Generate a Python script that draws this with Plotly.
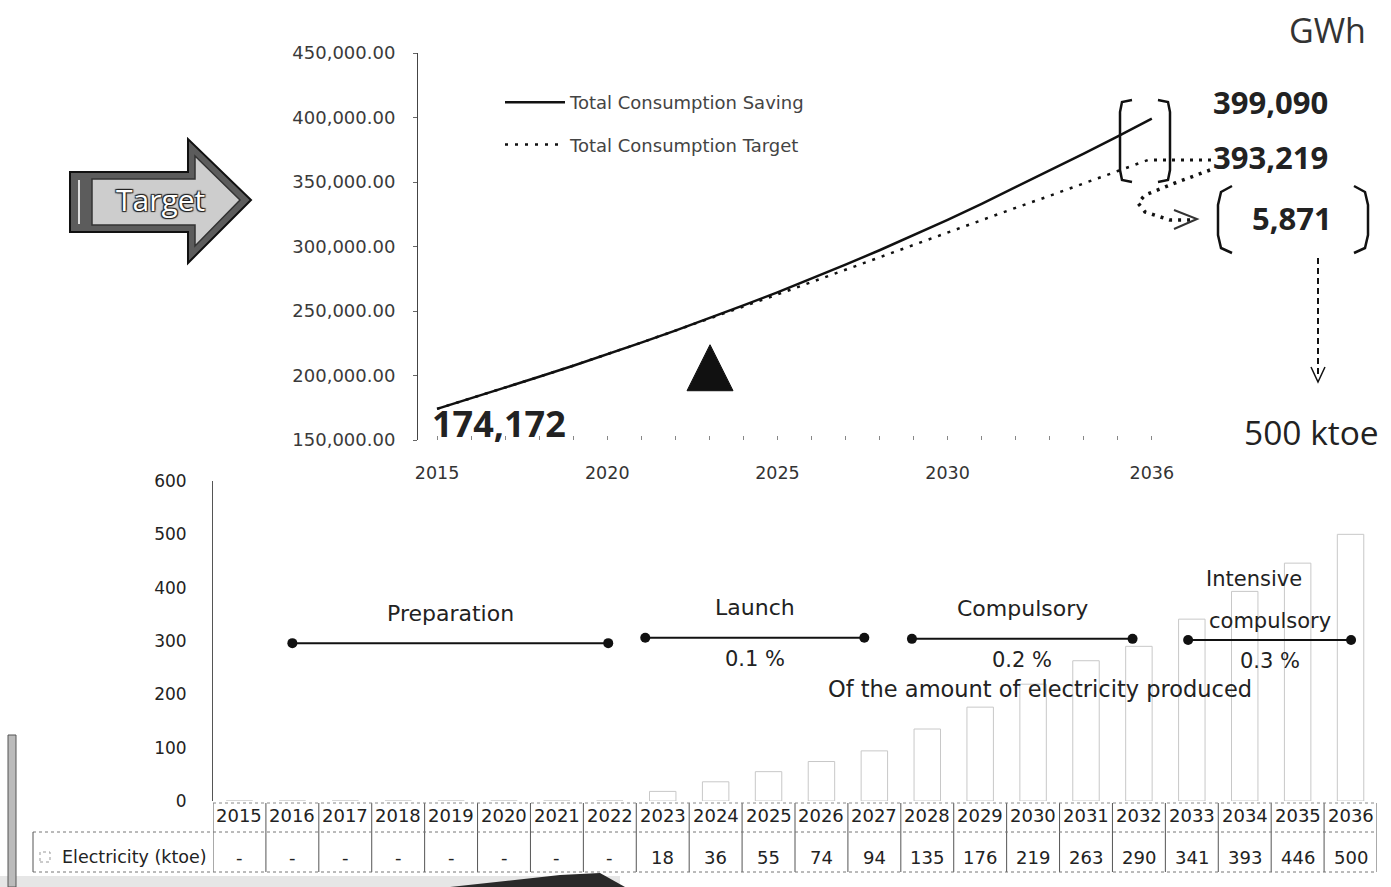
import plotly.graph_objects as go

W, H = 1391, 887

# ---------------- data ----------------
years = [2015, 2016, 2017, 2018, 2019, 2020, 2021, 2022, 2023, 2024, 2025,
         2026, 2027, 2028, 2029, 2030, 2031, 2032, 2033, 2034, 2035, 2036]
consumption_saving = [174172, 182300, 190600, 199000, 207600, 216400, 225500, 234800,
                      244400, 254300, 264500, 275000, 285900, 297100, 308700, 320700,
                      333100, 345900, 359100, 372000, 385400, 399090]
consumption_target = [174172, 182300, 190600, 199000, 207600, 216400, 225500, 234800,
                      244400, 253500, 262800, 272200, 281800, 291600, 301200, 310900,
                      320600, 330000, 339300, 348600, 358500, 368200]
electricity_ktoe = [0, 0, 0, 0, 0, 0, 0, 0, 18, 36, 55, 74, 94, 135, 176, 219,
                    263, 290, 341, 393, 446, 500]
electricity_text = ["-", "-", "-", "-", "-", "-", "-", "-", "18", "36", "55", "74", "94",
                    "135", "176", "219", "263", "290", "341", "393", "446", "500"]

top_tick_years = [2015, 2020, 2025, 2030, 2036]
top_y_ticks = [150000, 200000, 250000, 300000, 350000, 400000, 450000]
bottom_y_ticks = [0, 100, 200, 300, 400, 500, 600]

phase_names = ["Preparation", "Launch", "Compulsory", "Intensive"]
phase_start = [2016.0, 2022.67, 2027.71, 2032.93]
phase_end = [2021.97, 2026.81, 2031.88, 2036.01]
phase_level = [296, 306, 304, 302]
phase_rates = ["", "0.1 %", "0.2 %", "0.3 %"]
rate_note = "Of the amount of electricity produced"

start_label = "174,172"
saving_end_label = "399,090"
target_end_label = "393,219"
gap_label = "5,871"
unit_top = "GWh"
ktoe_label = "500 ktoe"
row_label = "Electricity (ktoe)"


def px(x):
    return x / W


def py(y):
    return 1 - y / H


def ppath(points, close=False):
    s = "M" + " L".join(f"{px(x):.5f},{py(y):.5f}" for x, y in points)
    return s + (" Z" if close else "")


FONT = "Open Sans"
DV = "DejaVu Sans"
fig = go.Figure()

# ---------------- top chart ----------------
fig.add_trace(go.Scatter(x=years, y=consumption_saving, mode="lines",
                         name="Total Consumption Saving", legendgroup="a",
                         line=dict(color="#111", width=2.5), xaxis="x", yaxis="y"))
fig.add_trace(go.Scatter(x=years, y=consumption_target, mode="lines",
                         name="Total Consumption Target", legendgroup="b",
                         line=dict(color="#111", width=2.5, dash="3px,7px"),
                         xaxis="x", yaxis="y"))

# ---------------- bottom chart ----------------
fig.add_trace(go.Bar(x=years, y=electricity_ktoe, width=0.5, showlegend=False,
                     marker=dict(color="white", line=dict(color="#c8c8c8", width=1)),
                     xaxis="x2", yaxis="y2"))

phx, phy = [], []
for s, e, lv in zip(phase_start, phase_end, phase_level):
    phx += [s, e, None]
    phy += [lv, lv, None]
fig.add_trace(go.Scatter(x=phx, y=phy, mode="lines+markers", showlegend=False,
                         line=dict(color="#111", width=2),
                         marker=dict(color="#111", size=10),
                         xaxis="x2", yaxis="y2"))

annotations = []
shapes = []

# phase labels
for name, s, e, lv, rate in zip(phase_names, phase_start, phase_end, phase_level, phase_rates):
    mid = (s + e) / 2
    if name == "Intensive":
        annotations.append(dict(x=mid - 0.3, y=lv, xref="x2", yref="y2", text="Intensive",
                                yshift=61, font=dict(family=DV, size=21, color="#222")))
        annotations.append(dict(x=mid, y=lv, xref="x2", yref="y2", text="compulsory",
                                yshift=19, font=dict(family=DV, size=21, color="#222")))
    else:
        annotations.append(dict(x=mid, y=lv, xref="x2", yref="y2", text=name,
                                yshift=30, font=dict(family=DV, size=22, color="#222")))
    if rate:
        annotations.append(dict(x=mid, y=lv, xref="x2", yref="y2", text=rate,
                                yshift=-21, font=dict(family=DV, size=21, color="#222")))
annotations.append(dict(x=2030.13, y=210, xref="x2", yref="y2", text=rate_note,
                        font=dict(family=DV, size=22.5, color="#222")))

# ---------------- table under bars ----------------
for yr, val in zip(years, electricity_text):
    annotations.append(dict(x=yr, y=py(815), xref="x2", yref="paper", text=str(yr),
                            font=dict(family=DV, size=18, color="#222")))
    annotations.append(dict(x=yr, y=py(857), xref="x2", yref="paper", text=val,
                            font=dict(family=DV, size=18, color="#222")))
annotations.append(dict(x=px(134), y=py(857), xref="paper", yref="paper", text=row_label,
                        font=dict(family=DV, size=17.5, color="#222")))

for yr in years + [2037]:
    shapes.append(dict(type="line", xref="x2", yref="paper", x0=yr - 0.5, x1=yr - 0.5,
                       y0=py(803), y1=py(872), line=dict(color="#555", width=1)))
shapes.append(dict(type="line", xref="x2", yref="paper", x0=2014.5, x1=2036.5,
                   y0=py(803), y1=py(803), line=dict(color="#888", width=1, dash="dot")))
for yy in (832, 872):
    shapes.append(dict(type="line", xref="paper", yref="paper", x0=px(33), x1=px(1377),
                       y0=py(yy), y1=py(yy), line=dict(color="#777", width=1, dash="dot")))
shapes.append(dict(type="line", xref="paper", yref="paper", x0=px(33), x1=px(33),
                   y0=py(832), y1=py(872), line=dict(color="#555", width=1)))
shapes.append(dict(type="rect", xref="paper", yref="paper", x0=px(40), x1=px(50),
                   y0=py(862), y1=py(852), line=dict(color="#999", width=1, dash="dot")))

# ---------------- top annotations ----------------
top_ann = [
    dict(x=px(1327), y=py(30), text=unit_top, font=dict(family=FONT, size=34, color="#333")),
    dict(x=px(1270), y=py(102), text=f"<b>{saving_end_label}</b>", font=dict(family=FONT, size=31, color="#222")),
    dict(x=px(1270), y=py(157), text=f"<b>{target_end_label}</b>", font=dict(family=FONT, size=31, color="#222")),
    dict(x=px(1292), y=py(218), text=f"<b>{gap_label}</b>", font=dict(family=FONT, size=31, color="#222")),
    dict(x=px(1311), y=py(432), text=ktoe_label, font=dict(family=FONT, size=33.5, color="#222")),
    dict(x=px(499), y=py(423), text=f"<b>{start_label}</b>", font=dict(family=FONT, size=36, color="#222")),
    dict(x=px(160), y=py(200), text="Target",
         font=dict(family=FONT, size=30, color="white",
                   shadow="1px 1px 1px #222, -1px -1px 1px #222, 1px -1px 1px #222, -1px 1px 1px #222")),
]
for a in top_ann:
    a.update(xref="paper", yref="paper")
annotations += top_ann
for a in annotations:
    a.update(showarrow=False, xanchor="center", yanchor="middle")

# Brackets and connectors
shapes += [
    dict(type="path", xref="paper", yref="paper",
         path=ppath([(1132, 100), (1122, 102), (1120, 112), (1120, 170), (1122, 180), (1132, 182)]),
         line=dict(color="#111", width=2.5)),
    dict(type="path", xref="paper", yref="paper",
         path=ppath([(1158, 100), (1168, 102), (1170, 112), (1170, 170), (1168, 180), (1158, 182)]),
         line=dict(color="#111", width=2.5)),
    dict(type="path", xref="paper", yref="paper",
         path=ppath([(1232, 186), (1221, 192), (1218, 205), (1218, 235), (1221, 248), (1232, 253)]),
         line=dict(color="#111", width=2.5)),
    dict(type="path", xref="paper", yref="paper",
         path=ppath([(1354, 186), (1365, 192), (1368, 205), (1368, 235), (1365, 248), (1354, 253)]),
         line=dict(color="#111", width=2.5)),
    dict(type="line", xref="paper", yref="paper", x0=px(1154), x1=px(1212), y0=py(160), y1=py(160),
         line=dict(color="#111", width=3, dash="3px,6px")),
    dict(type="path", xref="paper", yref="paper",
         path=ppath([(1210, 170), (1175, 183), (1145, 195), (1138, 203), (1145, 212), (1170, 220), (1190, 220)]),
         line=dict(color="#111", width=3.5, dash="3px,6px")),
    dict(type="path", xref="paper", yref="paper",
         path=ppath([(1174, 210), (1197, 219), (1174, 229)]),
         line=dict(color="#333", width=2)),
    dict(type="line", xref="paper", yref="paper", x0=px(1318), x1=px(1318), y0=py(258), y1=py(378),
         line=dict(color="#111", width=2, dash="6px,4px")),
    dict(type="path", xref="paper", yref="paper",
         path=ppath([(1311, 367), (1318, 382), (1325, 367)]),
         line=dict(color="#111", width=1.5)),
    dict(type="path", xref="x", yref="y", xsizemode="pixel", ysizemode="pixel",
         xanchor=2023.02, yanchor=188200, path="M-23,0 L23,0 L0,46 Z",
         fillcolor="#111", line=dict(color="#111", width=1)),
    dict(type="path", xref="paper", yref="paper",
         path=ppath([(70, 172), (188, 172), (188, 139), (251, 200), (188, 263), (188, 232), (70, 232)], True),
         fillcolor="#5c5c5c", line=dict(color="#111", width=2)),
    dict(type="path", xref="paper", yref="paper",
         path=ppath([(92, 179), (195, 179), (195, 156), (240, 200), (195, 246), (195, 225), (92, 225)], True),
         fillcolor="#cdcdcd", line=dict(color="#333", width=1.5)),
    dict(type="line", xref="paper", yref="paper", x0=px(79), x1=px(79), y0=py(180), y1=py(224),
         line=dict(color="#ddd", width=2)),
    dict(type="rect", xref="paper", yref="paper", x0=px(8), x1=px(16), y0=py(887), y1=py(735),
         fillcolor="#bbb", line=dict(color="#555", width=1)),
    dict(type="rect", xref="paper", yref="paper", x0=0, x1=px(620), y0=0, y1=py(876),
         fillcolor="#e6e6e6", line=dict(width=0), layer="below"),
    dict(type="path", xref="paper", yref="paper",
         path=ppath([(450, 887), (560, 875), (600, 873), (625, 887)], True),
         fillcolor="#2a2a2a", line=dict(width=0)),
]

fig.update_layout(
    width=W, height=H,
    margin=dict(l=0, r=0, t=0, b=0, pad=0, autoexpand=False),
    paper_bgcolor="white", plot_bgcolor="rgba(0,0,0,0)",
    showlegend=True,
    legend=dict(x=px(500), y=py(84), xanchor="left", yanchor="top",
                bgcolor="rgba(0,0,0,0)", tracegroupgap=16, itemwidth=60,
                font=dict(family=DV, size=18, color="#444")),
    xaxis=dict(domain=[px(418), px(1160)], range=[2014.44, 2036.24], anchor="y",
               showgrid=False, zeroline=False, showline=False,
               tickmode="array", tickvals=top_tick_years, ticks="",
               ticklabelstandoff=20,
               tickfont=dict(family=DV, size=17.5, color="#333"),
               minor=dict(tickmode="linear", tick0=2015, dtick=1, ticks="inside",
                          ticklen=4, tickcolor="#888")),
    yaxis=dict(domain=[py(440), py(53)], range=[150000, 450000], anchor="x",
               showgrid=False, zeroline=False, showline=True, linecolor="#444", linewidth=1,
               tickmode="array", tickvals=top_y_ticks, tickformat=",.2f",
               ticks="outside", ticklen=4, tickcolor="#666", ticklabelstandoff=14,
               tickfont=dict(family=DV, size=18, color="#3a3a3a")),
    xaxis2=dict(domain=[px(213), px(1377)], range=[2014.5, 2036.5], anchor="y2",
                showgrid=False, zeroline=False, showline=False, showticklabels=False, ticks=""),
    yaxis2=dict(domain=[py(801), py(481)], range=[0, 600], anchor="x2",
                showgrid=False, zeroline=False, showline=True, linecolor="#555", linewidth=1,
                tickmode="array", tickvals=bottom_y_ticks, ticks="", ticklabelstandoff=22,
                tickfont=dict(family=DV, size=17, color="#222")),
    annotations=annotations,
    shapes=shapes,
)

fig.write_html("out.html", config={"displayModeBar": False},
               post_script="document.body.style.margin='0px';")
